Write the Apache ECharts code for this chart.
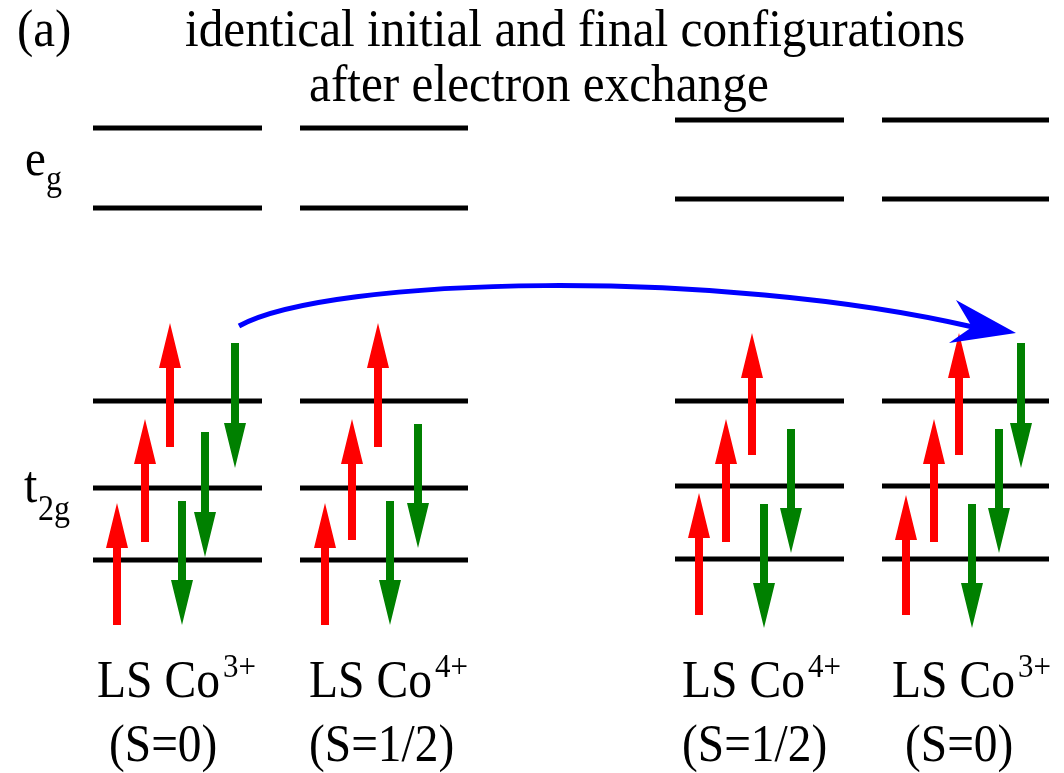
<!DOCTYPE html>
<html>
<head>
<meta charset="utf-8">
<script src="https://cdn.jsdelivr.net/npm/echarts@6/dist/echarts.min.js"></script>
<style>
  html, body { margin: 0; padding: 0; background: #ffffff; }
  #chart { width: 1064px; height: 773px; }
</style>
</head>
<body>
<div id="chart"></div>
<script>
// Energy levels: [xStart, xEnd, level]; the level axis runs downward.
const egLevels = [
  [93, 262, 128], [93, 262, 208],
  [300, 468, 128], [300, 468, 208],
  [675, 844, 120], [675, 844, 199],
  [882, 1049, 120], [882, 1049, 199]
];
const t2gLevels = [
  [93, 262, 401], [93, 262, 488], [93, 262, 560],
  [300, 468, 401], [300, 468, 488], [300, 468, 560],
  [675, 844, 401], [675, 844, 486], [675, 844, 559],
  [882, 1049, 401], [882, 1049, 486], [882, 1049, 559]
];

// Spin arrows: [x, tail, tip]; tip above tail = spin up.
const spinUp = [
  [117, 625, 503], [145, 542, 419], [170, 447, 323],
  [325, 625, 503], [352, 540, 419], [378, 447, 323],
  [699, 615, 493], [726, 542, 419], [752, 455, 333],
  [906, 615, 495], [934, 542, 419], [959, 455, 333]
];
const spinDown = [
  [182, 501, 625], [205, 432, 557], [235, 343, 468],
  [390, 501, 625], [418, 424, 548],
  [764, 504, 628], [791, 429, 553],
  [972, 504, 628], [999, 429, 553], [1021, 343, 468]
];

// Electron hop: cubic path [start, control 1, control 2, end] and its head.
const hopPath = [[239, 326], [330, 276], [720, 268], [973, 327]];
const hopHead = [[1016, 333], [956, 300], [972, 327], [949, 343]];

// Text labels
const titleLines = ['identical initial and final configurations', 'after electron exchange'];
const panelTag = '(a)';
const ionNames = [['LS Co', '3+'], ['LS Co', '4+'], ['LS Co', '4+'], ['LS Co', '3+']];
const spinStates = ['(S=0)', '(S=1/2)', '(S=1/2)', '(S=0)'];

const SERIF = '"Liberation Serif", "DejaVu Serif", serif';
const chart = echarts.init(document.getElementById('chart'), null, { renderer: 'canvas' });

function levelItem(params, api) {
  const a = api.coord([api.value(0), api.value(2)]);
  const b = api.coord([api.value(1), api.value(2)]);
  return {
    type: 'line',
    shape: { x1: a[0], y1: a[1], x2: b[0], y2: b[1] },
    style: { stroke: '#000000', lineWidth: 5 }
  };
}

function arrowRenderer(color) {
  return function (params, api) {
    const tail = api.coord([api.value(0), api.value(1)]);
    const tip = api.coord([api.value(0), api.value(2)]);
    const dir = tip[1] < tail[1] ? -1 : 1;
    const headLen = 45, headHalf = 11, shaftHalf = 4;
    const x = tip[0];
    const baseY = tip[1] - dir * headLen;
    return {
      type: 'polygon',
      shape: {
        points: [
          [x - shaftHalf, tail[1]],
          [x - shaftHalf, baseY],
          [x - headHalf, baseY],
          [x, tip[1]],
          [x + headHalf, baseY],
          [x + shaftHalf, baseY],
          [x + shaftHalf, tail[1]]
        ]
      },
      style: { fill: color }
    };
  };
}

function hopItem(params, api) {
  const p = hopPath.map(function (d) { return api.coord(d); });
  const h = hopHead.map(function (d) { return api.coord(d); });
  return {
    type: 'group',
    children: [
      {
        type: 'bezierCurve',
        shape: {
          x1: p[0][0], y1: p[0][1],
          cpx1: p[1][0], cpy1: p[1][1],
          cpx2: p[2][0], cpy2: p[2][1],
          x2: p[3][0], y2: p[3][1]
        },
        style: { stroke: '#0000ff', lineWidth: 5, fill: null }
      },
      {
        type: 'polygon',
        shape: { points: h },
        style: { fill: '#0000ff' }
      }
    ]
  };
}

// Text placed by its baseline; glyphs are drawn slightly tall (scaleY).
function text(str, x, baseline, size, stretch) {
  const s = stretch || 1.1;
  return {
    type: 'text',
    x: x,
    y: baseline - 0.29 * size * s,
    scaleY: s,
    style: {
      text: str,
      font: size + 'px ' + SERIF,
      fill: '#000000',
      align: 'left',
      verticalAlign: 'middle'
    }
  };
}

const labelX = [[97, 109], [309, 309], [682, 682], [892, 905]];
const graphics = [];
graphics.push(text(panelTag, 17, 47, 49, 1.08));
graphics.push(text(titleLines[0], 185, 47, 49.3, 1.06));
graphics.push(text(titleLines[1], 309, 102, 49.3, 1.06));
graphics.push(text('e', 25, 176, 47));
graphics.push(text('g', 46, 191, 32));
graphics.push(text('t', 24, 503, 48));
graphics.push(text('2g', 38, 521, 32));
ionNames.forEach(function (n, i) {
  const x = labelX[i][0];
  graphics.push(text(n[0], x, 698, 47.6));
  graphics.push(text(n[1], x + 126, 678, 31));
  graphics.push(text(spinStates[i], labelX[i][1], 762, 47.4));
});

chart.setOption({
  animation: false,
  backgroundColor: '#ffffff',
  grid: { left: 0, right: 0, top: 0, bottom: 0 },
  xAxis: { type: 'value', min: 0, max: 1064, show: false },
  yAxis: { type: 'value', min: 0, max: 773, inverse: true, show: false },
  series: [
    { type: 'custom', name: 'eg', clip: false, renderItem: levelItem, data: egLevels },
    { type: 'custom', name: 't2g', clip: false, renderItem: levelItem, data: t2gLevels },
    { type: 'custom', name: 'spin up', clip: false, renderItem: arrowRenderer('#ff0000'), data: spinUp },
    { type: 'custom', name: 'spin down', clip: false, renderItem: arrowRenderer('#008000'), data: spinDown },
    { type: 'custom', name: 'hop', clip: false, renderItem: hopItem, data: [hopPath[0]] }
  ],
  graphic: graphics
});
</script>
</body>
</html>
